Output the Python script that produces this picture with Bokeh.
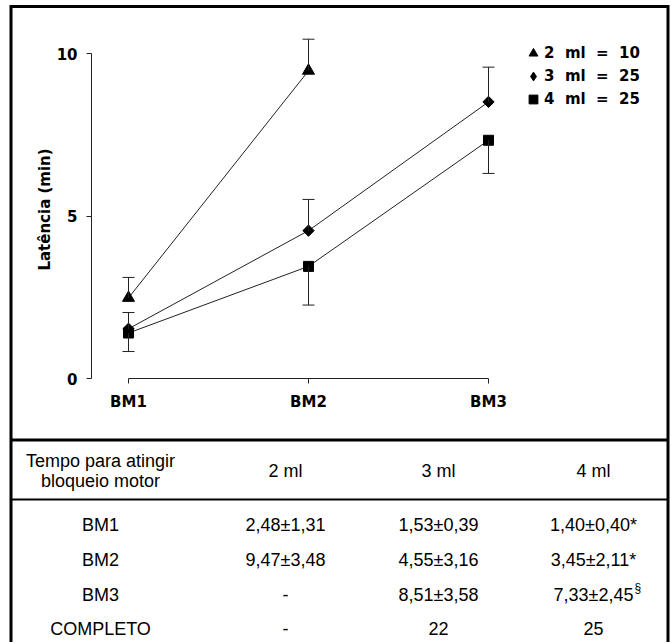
import math
from bokeh.plotting import figure
from bokeh.models import (Range1d, FixedTicker, ColumnDataSource, Legend, LegendItem)
from bokeh.core.properties import value
from bokeh.embed import file_html
from bokeh.resources import INLINE

# ---------------- data ----------------
categories = ["BM1", "BM2", "BM3"]
y_ticks = [0, 5, 10]
series_labels = ["2  ml  =  10", "3  ml  =  25", "4  ml  =  25"]
mean_2ml = [2.48, 9.47]
mean_3ml = [1.53, 4.55, 8.51]
mean_4ml = [1.40, 3.45, 7.33]
err_2ml = [0.63, 0.97]          # drawn upward
err_3ml = [0.50, 0.96, 1.07]    # drawn upward
err_4ml = [0.57, 1.19, 1.02]    # drawn downward

table_header = ["Tempo para atingir\nbloqueio motor", "2 ml", "3 ml", "4 ml"]
table_rows = ["BM1", "BM2", "BM3", "COMPLETO"]
col_2ml = ["2,48\u00b11,31", "9,47\u00b13,48", "-", "-"]
col_3ml = ["1,53\u00b10,39", "4,55\u00b13,16", "8,51\u00b13,58", "22"]
col_4ml = ["1,40\u00b10,40*", "3,45\u00b12,11*", "7,33\u00b12,45", "25"]
col_4ml_sup = ["", "", "\u00a7", ""]

# ---------------- layout constants (pixels) ----------------
W, H = 670, 642
FL, FR, FT, FB = 91, 665, 40, 378
PX_X = 180.0
PX_Y = 32.5
x0 = 1 - (128 - FL) / PX_X
CHART_FONT = "DejaVu Sans"
TABLE_FONT = "Liberation Sans"
INK = "#222222"

xpos = {c: i + 1 for i, c in enumerate(categories)}

p = figure(width=W, height=H, title=None,
           x_range=Range1d(x0, x0 + (FR - FL) / PX_X),
           y_range=Range1d(y_ticks[0], y_ticks[0] + (FB - FT) / PX_Y),
           output_backend="svg", toolbar_location=None,
           min_border_left=FL, min_border_right=W - FR,
           min_border_top=FT, min_border_bottom=H - FB)
p.extra_x_ranges = {"px": Range1d(FL, FR)}
p.extra_y_ranges = {"px": Range1d(FB, FT)}
p.xgrid.visible = False
p.ygrid.visible = False
p.outline_line_color = None
p.background_fill_color = "white"
p.border_fill_color = "white"

xa = p.xaxis[0]
xa.ticker = FixedTicker(ticks=[xpos[c] for c in categories])
xa.major_label_overrides = {xpos[c]: c for c in categories}
xa.bounds = (xpos[categories[0]], xpos[categories[-1]])
xa.major_tick_in = 0
xa.major_tick_out = 5
xa.minor_tick_line_color = None
xa.major_label_standoff = 9
xa.axis_line_color = INK
xa.major_tick_line_color = INK
xa.major_label_text_font = CHART_FONT
xa.major_label_text_font_style = "bold"
xa.major_label_text_font_size = "15px"
xa.major_label_text_color = "black"

ya = p.yaxis[0]
ya.ticker = FixedTicker(ticks=y_ticks)
ya.bounds = (y_ticks[0], y_ticks[-1])
ya.major_tick_in = 0
ya.major_tick_out = 5
ya.minor_tick_line_color = None
ya.major_label_standoff = 9
ya.axis_line_color = INK
ya.major_tick_line_color = INK
ya.major_label_text_font = CHART_FONT
ya.major_label_text_font_style = "bold"
ya.major_label_text_font_size = "15px"
ya.major_label_text_color = "black"
ya.axis_label = "Lat\u00eancia (min)"
ya.axis_label_text_font = CHART_FONT
ya.axis_label_text_font_style = "bold"
ya.axis_label_text_font_size = "15px"
ya.axis_label_text_color = "black"
ya.axis_label_standoff = 0

# marker on the chart, and marker shape shown in the legend
series = [
    (mean_2ml, err_2ml, "up", dict(marker="triangle", size=12, angle=0.0), "triangle"),
    (mean_3ml, err_3ml, "up", dict(marker="square", size=8, angle=math.pi / 4), "diamond"),
    (mean_4ml, err_4ml, "down", dict(marker="square", size=10, angle=0.0), "square"),
]

legend_items = []
for (means, errs, direction, mk, leg_marker), label in zip(series, series_labels):
    xs = [xpos[c] for c in categories[:len(means)]]
    sign = 1 if direction == "up" else -1
    ends = [m + sign * e for m, e in zip(means, errs)]
    src = ColumnDataSource(dict(x=xs, y=means, end=ends))
    p.segment(x0="x", y0="y", x1="x", y1="end", source=src,
              line_color=INK, line_width=1, level="overlay")
    p.scatter("x", "end", source=src, marker="dash", size=12,
              line_color=INK, line_width=1, level="overlay")
    p.line("x", "y", source=src, line_color=INK, line_width=1)
    r = p.scatter("x", "y", source=src, marker=mk["marker"], size=mk["size"],
                  angle=mk["angle"], fill_color="black", line_color="black")
    if leg_marker == mk["marker"] and mk["angle"] == 0.0:
        legend_items.append(LegendItem(label=label, renderers=[r]))
    else:
        # legend swatch for the rotated-square ("diamond") series
        rl = p.scatter("x", "y", source=src, marker=leg_marker, size=0,
                       fill_color="black", line_color="black")
        legend_items.append(LegendItem(label=label, renderers=[rl]))

LEG_X = 431        # from frame left
LEG_BOTTOM = 110   # page y of legend bottom edge
leg = Legend(items=legend_items, location=(LEG_X, FB - LEG_BOTTOM),
             orientation="vertical", glyph_width=22, glyph_height=22,
             label_height=22, spacing=1, padding=0, margin=0,
             label_standoff=0, border_line_color=None,
             background_fill_alpha=0,
             label_text_font=CHART_FONT, label_text_font_style="bold",
             label_text_font_size="15px", label_text_color="black")
p.add_layout(leg)

# ---------------- frame box and table (pixel ranges, drawn unclipped) ----------------
px = dict(x_range_name="px", y_range_name="px", level="overlay")
LEFT_X, RIGHT_X, TOP_Y = 10.5, 667.5, 6
SEP_Y, RULE_Y = 439.5, 499
p.segment(x0=[LEFT_X, RIGHT_X, LEFT_X, LEFT_X], y0=[4.5, 4.5, TOP_Y, SEP_Y],
          x1=[LEFT_X, RIGHT_X, RIGHT_X, RIGHT_X], y1=[H + 5, H + 5, TOP_Y, SEP_Y],
          line_color="black", line_width=3, **px)
p.segment(x0=[LEFT_X], y0=[RULE_Y], x1=[RIGHT_X], y1=[RULE_Y],
          line_color="black", line_width=2, **px)

col_x = [100, 285, 438, 593]
header_y = 470
row_y = [524, 559, 594, 628]

tkw = dict(text_align="center", text_baseline="middle", text_color="black",
           text_font=value(TABLE_FONT), text_font_size="18px", **px)
p.text(x=col_x, y=[header_y] * 4, text=table_header, text_line_height=1.0, **tkw)
p.text(x=[col_x[0]] * 4, y=row_y, text=table_rows, **tkw)
p.text(x=[col_x[1]] * 4, y=row_y, text=col_2ml, **tkw)
p.text(x=[col_x[2]] * 4, y=row_y, text=col_3ml, **tkw)
p.text(x=[col_x[3]] * 4, y=row_y, text=col_4ml, **tkw)
p.text(x=[col_x[3]] * 4, y=row_y, text=col_4ml_sup, x_offset=41, y_offset=-7,
       text_align="left", text_baseline="middle", text_color="black",
       text_font=value(TABLE_FONT), text_font_size="12px", **px)

open("out.html", "w").write(file_html(p, INLINE))
